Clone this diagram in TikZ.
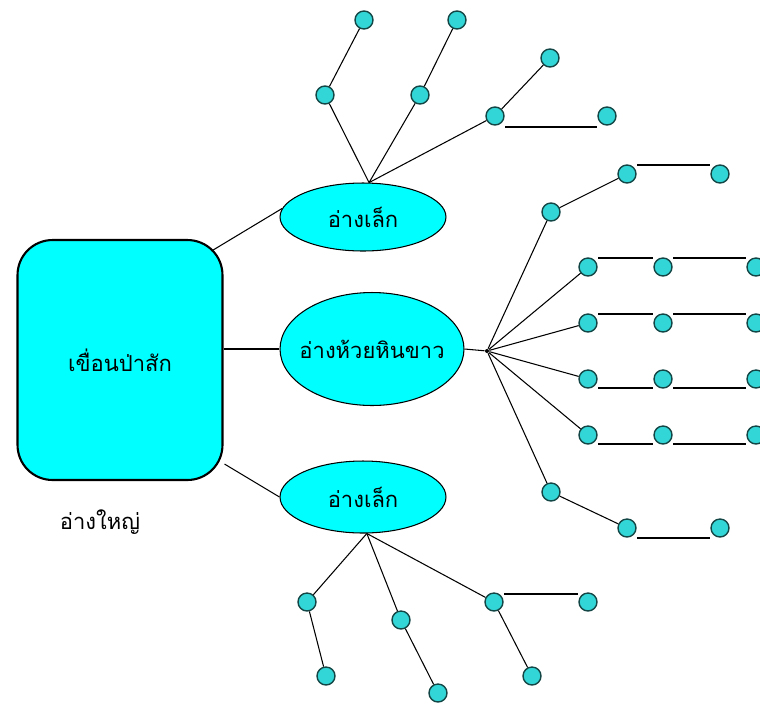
\documentclass[tikz,border=0pt]{standalone}
\usepackage{fontspec}
\newfontfamily\thaifont[Script=Thai]{Loma}
\usetikzlibrary{shapes.geometric,calc}
\definecolor{pondfill}{RGB}{0,255,255}
\definecolor{dotfill}{RGB}{51,214,214}
\definecolor{dotline}{RGB}{20,70,70}

\begin{document}
\begin{tikzpicture}[x=0.02cm, y=-0.02cm, line width=0.6pt,
  dam/.style={draw, line width=1.2pt, fill=pondfill, rounded corners=0.7cm,
    minimum width=4.1cm, minimum height=4.8cm, font=\thaifont\fontsize{12.5}{14}\selectfont},
  pond/.style={draw, ellipse, fill=pondfill, inner sep=0pt},
  dot/.style={draw=dotline, line width=0.8pt, circle, fill=dotfill, minimum size=0.36cm, inner sep=0pt},
  hub/.style={circle, fill=black, minimum size=0.08cm, inner sep=0pt},
  lbl/.style={font=\thaifont\fontsize{12.5}{14}\selectfont}]
\useasboundingbox (0,0) rectangle (760,704);

% big dam (left)
\node[dam] (dam) at (120,360) {เขื่อนป่าสัก};
\node[lbl] (big) at (100,522) {อ่างใหญ่};

% ponds (middle)
\node[pond, minimum width=3.32cm, minimum height=1.36cm,
  label={[lbl]center:อ่างเล็ก}] (up) at (363,217) {};
\node[pond, minimum width=3.68cm, minimum height=2.26cm,
  label={[lbl]center:อ่างห้วยหินขาว}] (mid) at (372,349) {};
\node[pond, minimum width=3.32cm, minimum height=1.44cm,
  label={[lbl]center:อ่างเล็ก}] (low) at (363,497) {};

\draw ($(dam.north east)+(-12,12)$) -- (up.174);
\draw (dam.east |- mid.west) -- (mid.west);
\draw ($(dam.south east)+(1,-17)$) -- (low.west);

% upper branch
\node[dot] (U1) at (325,95) {};
\node[dot] (U2) at (420,95) {};
\node[dot] (U3) at (495,116) {};
\node[dot] (U4) at (364,20) {};
\node[dot] (U5) at (457,20) {};
\node[dot] (U6) at (550,58) {};
\node[dot] (U7) at (607,116) {};
\draw (up.80) -- (U1);
\draw (up.80) -- (U2);
\draw (up.80) -- (U3);
\draw (U1) -- (U4);
\draw (U2) -- (U5);
\draw (U3) -- (U6);
\draw ($(U3)+(10,11)$) -- ($(U7)+(-10,11)$);

% middle branch
\node[hub] (H) at (487,351) {};
\draw (mid.east) -- (H);
\node[dot] (A1) at (551,212) {};
\node[dot] (A2) at (627,174) {};
\node[dot] (A3) at (720,174) {};
\node[dot] (A4) at (551,492) {};
\node[dot] (A5) at (627,528) {};
\node[dot] (A6) at (720,528) {};
\foreach \r/\y in {1/267,2/323,3/379,4/435}{
  \node[dot] (R\r a) at (588,\y) {};
  \node[dot] (R\r b) at (663,\y) {};
  \node[dot] (R\r c) at (756,\y) {};
  \draw (H) -- (R\r a);
}
\foreach \r in {1,2}{
  \draw ($(R\r a)+(10,-9)$) -- ($(R\r b)+(-10,-9)$);
  \draw ($(R\r b)+(10,-9)$) -- ($(R\r c)+(-10,-9)$);
}
\foreach \r in {3,4}{
  \draw ($(R\r a)+(10,9)$) -- ($(R\r b)+(-10,9)$);
  \draw ($(R\r b)+(10,9)$) -- ($(R\r c)+(-10,9)$);
}
\draw (H) -- (A1);
\draw (A1) -- (A2);
\draw ($(A2)+(10,-9)$) -- ($(A3)+(-10,-9)$);
\draw (H) -- (A4);
\draw (A4) -- (A5);
\draw ($(A5)+(10,10)$) -- ($(A6)+(-10,10)$);

% lower branch
\node[dot] (B1) at (307,602) {};
\node[dot] (B2) at (401,620) {};
\node[dot] (B3) at (494,602) {};
\node[dot] (B4) at (588,602) {};
\node[dot] (B5) at (326,676) {};
\node[dot] (B6) at (438,693) {};
\node[dot] (B7) at (532,676) {};
\draw (low.-84) -- (B1);
\draw (low.-84) -- (B2);
\draw (low.-84) -- (B3);
\draw (B1) -- (B5);
\draw (B2) -- (B6);
\draw (B3) -- (B7);
\draw ($(B3)+(10,-8)$) -- ($(B4)+(-10,-8)$);
\end{tikzpicture}
\end{document}
